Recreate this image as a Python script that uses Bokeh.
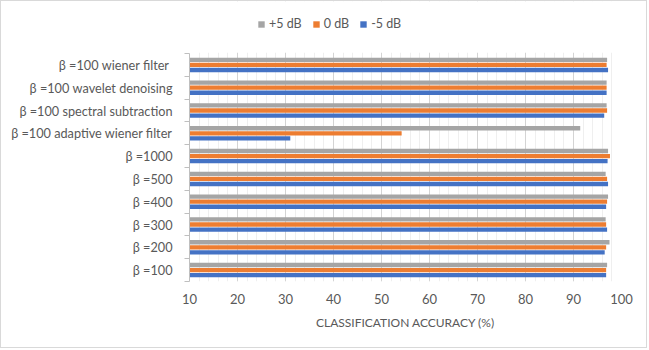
from bokeh.plotting import figure
from bokeh.models import (Range1d, LinearAxis, FixedTicker, BoxAnnotation,
                          SingleIntervalTicker, Legend, LegendItem, ColumnDataSource)
from bokeh.transform import dodge
from bokeh.embed import file_html
from bokeh.resources import INLINE

# ---- data (bottom to top) ----
categories = ["β =100", "β =200", "β =300", "β =400", "β =500", "β =1000",
              "β =100 adaptive wiener filter", "β =100 spectral subtraction",
              "β =100 wavelet denoising", "β =100  wiener filter"]
series_names = ["+5 dB", "0 dB", "-5 dB"]
plus5 = [97.0, 97.5, 96.7, 97.2, 96.7, 97.2, 91.4, 96.9, 96.9, 97.0]
zero_db = [96.8, 96.8, 96.8, 97.0, 97.0, 97.6, 54.2, 97.0, 96.9, 96.9]
minus5 = [96.8, 96.5, 97.0, 96.8, 97.2, 97.1, 31.0, 96.4, 96.9, 97.2]
x_min, x_max, x_step = 10, 100, 10
x_title = "CLASSIFICATION ACCURACY (%)"

colors = ["#A5A5A5", "#ED7D31", "#4472C4"]
FONT = "Lato"
TXT = "#595959"

W, H = 647, 348
BOTTOM = 68          # space below plot area (px)
PLOT_H = 228         # height of the category area (px)
FRAME_H = H - BOTTOM # frame reaches the top so that the legend is not clipped

n = len(categories)
centers = [i + 0.5 for i in range(n)]
src = ColumnDataSource(dict(pos=centers, cat=categories, p5=plus5, z0=zero_db, m5=minus5))

p = figure(width=W, height=H, y_range=Range1d(0, n * FRAME_H / PLOT_H),
           x_range=Range1d(x_min, x_max), output_backend="svg", toolbar_location=None,
           y_axis_location=None, min_border_left=188, min_border_right=27,
           min_border_top=0, min_border_bottom=BOTTOM)
p.styles = {"border": "1px solid #d9d9d9"}
p.outline_line_color = None
p.background_fill_color = "white"

# bars
offsets = [0.223, 0.0, -0.223]
fields = ["p5", "z0", "m5"]
renderers = []
for f, off, c in zip(fields, offsets, colors):
    r = p.hbar(y=dodge("pos", off), right=f, height=0.19, source=src,
               fill_color=c, line_color=None)
    renderers.append(r)

# x axis
xa = p.xaxis[0]
xa.ticker = SingleIntervalTicker(interval=x_step, num_minor_ticks=5)
xa.axis_line_color = None
xa.major_tick_line_color = None
xa.minor_tick_line_color = None
xa.major_label_text_font = FONT
xa.major_label_text_font_size = "13px"
xa.major_label_text_color = TXT
xa.major_label_standoff = 6
xa.axis_label = x_title
xa.axis_label_text_font = FONT
xa.axis_label_text_font_size = "12px"
xa.axis_label_text_font_style = "normal"
xa.axis_label_text_color = TXT
xa.axis_label_standoff = 8

p.xgrid.grid_line_color = "#d4d4d4"
p.xgrid.minor_grid_line_color = "#efefef"
p.ygrid.grid_line_color = None

# white cover above the category area (hides the grid there)
p.add_layout(BoxAnnotation(bottom=n + 0.03, fill_color="white", fill_alpha=1.0,
                           line_color=None))

# boundary ticks axis (closest to frame)
bounds = list(range(n + 1))
tick_axis = LinearAxis(ticker=FixedTicker(ticks=bounds, minor_ticks=[]), bounds=(0, n),
                       major_label_overrides={b: "" for b in bounds}, major_label_standoff=0,
                       major_tick_out=5, major_tick_in=0, minor_tick_line_color=None,
                       axis_line_color="#bfbfbf", major_tick_line_color="#bfbfbf")
p.add_layout(tick_axis, "left")

cat_axis = LinearAxis(ticker=FixedTicker(ticks=centers, minor_ticks=[]),
                      major_label_overrides={c: lab for c, lab in zip(centers, categories)},
                      major_tick_line_color=None, minor_tick_line_color=None, axis_line_color=None,
                      major_label_text_font=FONT, major_label_text_font_size="12.7px",
                      major_label_text_color=TXT, major_label_standoff=6)
p.add_layout(cat_axis, "left")

legend = Legend(items=[LegendItem(label=s, renderers=[r]) for s, r in zip(series_names, renderers)],
                orientation="horizontal", location=(68, FRAME_H - 30), glyph_width=8, glyph_height=8,
                label_standoff=4, spacing=10, padding=0, margin=0,
                border_line_color=None, background_fill_alpha=0,
                label_text_font=FONT, label_text_font_size="12.5px", label_text_color=TXT,
                label_height=14)
p.add_layout(legend, "center")

open("out.html", "w").write(file_html(p, INLINE))
